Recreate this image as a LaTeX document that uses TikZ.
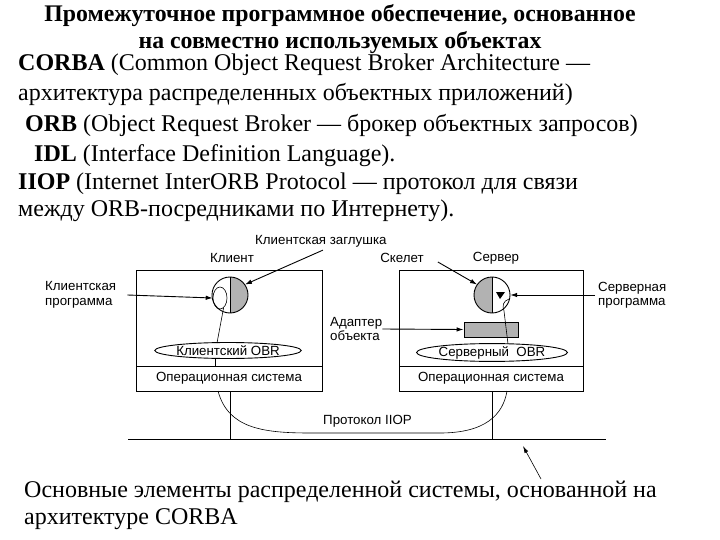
\documentclass[tikz,border=0pt]{standalone}
\usepackage{fontspec}
\setmainfont{Liberation Serif}
\setsansfont{Liberation Sans}
\usetikzlibrary{arrows.meta,shapes.geometric}
\begin{document}
\begin{tikzpicture}[x=1pt,y=-1pt,
 body/.style={anchor=base west, inner sep=0pt, font=\fontsize{24}{29}\selectfont},
 ttl/.style={anchor=base, inner sep=0pt, font=\fontsize{23.8}{28}\selectfont\bfseries},
 lbl/.style={inner sep=0pt, font=\sffamily\fontsize{13.3}{15}\selectfont},
 lbltwo/.style={inner sep=0pt, align=left, anchor=west, font=\sffamily\fontsize{13.3}{14.5}\selectfont},
 ln/.style={line width=0.9pt},
 thin/.style={line width=0.6pt},
 arr/.style={ln, -{Latex[length=7pt,width=4.5pt]}},
 shd/.style={fill=black!30},
]
\useasboundingbox (0,0) rectangle (720,540);
\fill[white] (0,0) rectangle (720,540);

% title and text
\node[ttl] (t1) at (340,22) {Промежуточное программное обеспечение, основанное};
\node[ttl] (t2) at (340,49) {на совместно используемых объектах};
\node[body] (b1) at (18,71) {\textbf{CORBA} (Common Object Request Broker Architecture —};
\node[body] (b2) at (18,101) {архитектура распределенных объектных приложений)};
\node[body] (b3) at (25,132) {\textbf{ORB} (Object Request Broker — брокер объектных запросов)};
\node[body] (b4) at (34,162) {\textbf{IDL} (Interface Definition Language).};
\node[body] (b5) at (18,190) {\textbf{IIOP} (Internet InterORB Protocol — протокол для связи};
\node[body] (b6) at (18,217) {между ORB-посредниками по Интернету).};

% boxes
\draw[ln] (136,270) rectangle (322,391);
\draw[ln] (136,366) -- (322,366);
\draw[ln] (399,270) rectangle (583,391);
\draw[ln] (399,366) -- (583,366);

% client circle
\node[circle, minimum size=36pt, inner sep=0pt] (cc) at (230,295) {};
\begin{scope}
\clip (230,270) rectangle (260,320);
\fill[shd] (cc.center) circle[radius=18pt];
\end{scope}
\draw[ln] (cc.center) circle[radius=18pt];
\draw[thin] (cc.north) -- (cc.south);
\node[ellipse, draw, thin, minimum width=14pt, minimum height=22pt, inner sep=0pt] (loop) at (220,298) {};

% server circle
\node[circle, minimum size=36pt, inner sep=0pt] (sc) at (492,295) {};
\begin{scope}
\clip (462,270) rectangle (492,320);
\fill[shd] (sc.center) circle[radius=18pt];
\end{scope}
\draw[ln] (sc.center) circle[radius=18pt];
\draw[thin] (sc.north) -- (sc.south);
\fill (496,292) -- (505,292) -- (500,299) -- cycle;

% adapter
\node[draw, ln, shd, minimum width=54pt, minimum height=15pt, inner sep=0pt] (ad) at (491,329.5) {};

% ORB ellipses
\node[ellipse, draw, ln, lbl, minimum width=146pt, minimum height=16pt, inner sep=0pt] (corb) at (228,350.5) {Клиентский OBR};
\node[ellipse, draw, ln, lbl, minimum width=144pt, minimum height=17pt, inner sep=0pt] (sorb) at (492,352.5) {Серверный\ \ OBR};

% OS labels
\node[lbl] (cos) at (229,378.5) {Операционная система};
\node[lbl] (sos) at (491,378.5) {Операционная система};

% internal lines
\coordinate (lp1) at (217,343);
\draw[thin] (loop.-70) -- (lp1);
\coordinate (co1) at (215,358.5);
\coordinate (co2) at (215,366);
\draw[thin] (co1) -- (co2);
\coordinate (h1) at (509,299);
\coordinate (h2) at (504,311);
\coordinate (h3) at (508,344);
\draw[thin] (h1) .. controls (503,301) and (502,306) .. (h2) -- (h3);

% bus and verticals
\coordinate (busL) at (128,439);
\coordinate (busR) at (606,439);
\draw[ln] (busL) -- (busR);
\coordinate (cv1) at (230,391);
\coordinate (cv2) at (230,439);
\coordinate (sv1) at (492,391);
\coordinate (sv2) at (492,439);
\draw[thin] (cv1) -- (cv2);
\draw[thin] (sv1) -- (sv2);

% IIOP curve
\coordinate (ic1) at (218,391);
\coordinate (ic2) at (310,433);
\coordinate (ic3) at (440,433);
\coordinate (ic4) at (507,391);
\draw[thin] (ic1) .. controls (228,428) and (262,433) .. (ic2) -- (ic3) .. controls (485,433) and (503,415) .. (ic4);
\node[lbl, anchor=west] (iiop) at (323,421) {Протокол IIOP};

% labels
\node[lbl, anchor=west] (stub) at (255,241) {Клиентская заглушка};
\node[lbl] (cli) at (232,258) {Клиент};
\node[lbl] (skel) at (402,258) {Скелет};
\node[lbl] (srv) at (496,258) {Сервер};
\node[lbltwo] (cprog) at (45,295) {Клиентская\\программа};
\node[lbltwo] (sprog) at (598,295) {Серверная\\программа};
\node[lbltwo] (adapt) at (330,329) {Адаптер\\объекта};

% arrows
\draw[arr] ([xshift=11pt]cprog.east) -- (loop.west);
\draw[arr] ([xshift=2pt,yshift=-3pt]stub.south) -- (cc.35);
\draw[arr] ([shift={(14,4)}]skel.east) -- (sc.145);
\draw[arr] ([xshift=-3pt]sprog.west) -- (sc.east);
\draw[arr] (adapt.east) -- (ad.west);

% caption
\node[body] (c1) at (24,497) {Основные элементы распределенной системы, основанной на};
\node[body] (c2) at (24,524) {архитектуре CORBA};
\coordinate (cap) at (541,479);
\coordinate (capt) at (523,446);
\draw[thin, -{Latex[length=7pt,width=4pt]}] (cap) -- (capt);
\end{tikzpicture}
\end{document}
